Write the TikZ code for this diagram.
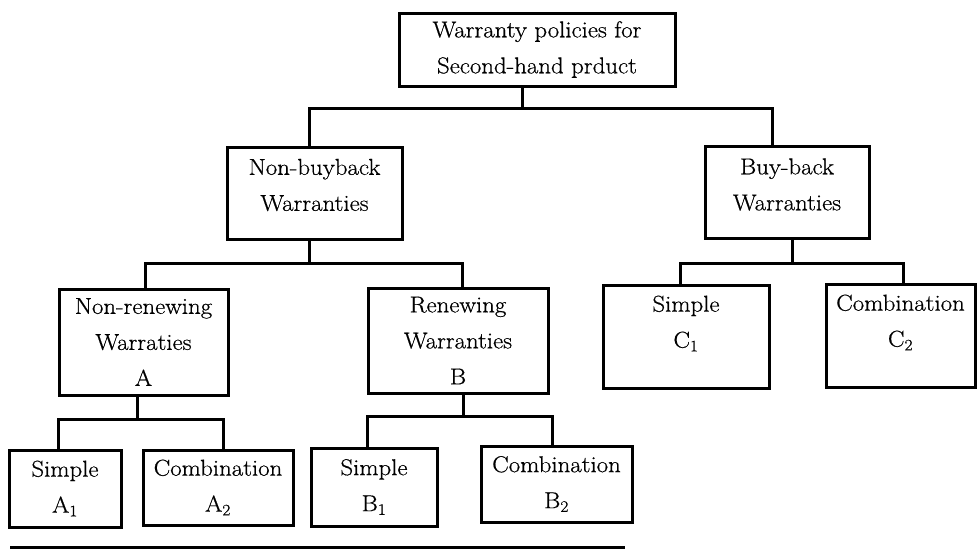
\documentclass[tikz,border=0pt]{standalone}
\usepackage{fontspec}
\newfontfamily\dfont{Latin Modern Roman}[FakeStretch=1.08, FakeBold=0.6]
\begin{document}
\begin{tikzpicture}[x=1pt,y=-1pt,
  box/.style={draw, line width=3pt, rectangle, inner sep=0pt, outer sep=0pt},
  bx/.style n args={2}{box, minimum width=#1pt, minimum height=#2pt},
  lbl/.style={align=center, inner sep=0pt, font=\dfont\fontsize{23}{36}\selectfont},
  conn/.style={line width=3pt, line join=miter}]
\useasboundingbox (0,0) rectangle (977,549);

% boxes
\node[bx={276}{73}, label={[lbl]center:{Warranty policies for\\Second-hand prduct}}] (root) at (537,49.5) {};
\node[bx={175}{92}, label={[lbl,yshift=8pt]center:{Non-buyback\\Warranties}}] (nb) at (314.5,193) {};
\node[bx={164}{92}, label={[lbl,yshift=7.5pt]center:{Buy-back\\Warranties}}] (bb) at (787,192) {};
\node[bx={169}{106}, label={[lbl]center:{Non-renewing\\Warraties\\A}}] (nr) at (143.5,342) {};
\node[bx={180}{105}, label={[lbl]center:{Renewing\\Warranties\\B}}] (rw) at (458,340.5) {};
\node[bx={112}{77}, label={[lbl]center:{Simple\\A\textsubscript{1}}}] (a1) at (65,488.5) {};
\node[bx={150}{75}, label={[lbl]center:{Combination\\A\textsubscript{2}}}] (a2) at (218,487.5) {};
\node[bx={126}{78}, label={[lbl]center:{Simple\\B\textsubscript{1}}}] (b1) at (374,487) {};
\node[bx={151}{76}, label={[lbl]center:{Combination\\B\textsubscript{2}}}] (b2) at (556.5,484) {};
\node[bx={166}{103}, label={[lbl,yshift=13pt]center:{Simple\\C\textsubscript{1}}}] (c1) at (686,336.5) {};
\node[bx={149}{103}, label={[lbl,yshift=13pt]center:{Combination\\C\textsubscript{2}}}] (c2) at (900.5,335.5) {};

% stem points
\coordinate (rootS) at ([xshift=-15pt]root.south);
\coordinate (nbN) at ([xshift=-5.5pt]nb.north);
\coordinate (bbN) at ([xshift=-15pt]bb.north);
\coordinate (nbS) at ([xshift=-5.5pt]nb.south);
\coordinate (bbS) at ([xshift=5pt]bb.south);
\coordinate (nrN) at ([xshift=1.5pt]nr.north);
\coordinate (rwN) at ([xshift=4pt]rw.north);
\coordinate (nrS) at ([xshift=-6.5pt]nr.south);
\coordinate (rwS) at ([xshift=5pt]rw.south);
\coordinate (a1N) at ([xshift=-7pt]a1.north);
\coordinate (a2N) at ([xshift=5pt]a2.north);
\coordinate (b1N) at ([xshift=-7pt]b1.north);
\coordinate (b2N) at ([xshift=-4.5pt]b2.north);
\coordinate (c1N) at ([xshift=-6pt]c1.north);
\coordinate (c2N) at ([xshift=2.5pt]c2.north);

% connectors
\draw[conn] (rootS) -- ++(0,22) -| (nbN);
\draw[conn] (rootS) ++(0,22) -| (bbN);
\draw[conn] (nbS) -- ++(0,24) -| (nrN);
\draw[conn] (nbS) ++(0,24) -| (rwN);
\draw[conn] (bbS) -- ++(0,25) -| (c1N);
\draw[conn] (bbS) ++(0,25) -| (c2N);
\draw[conn] (nrS) -- ++(0,24) -| (a1N);
\draw[conn] (nrS) ++(0,24) -| (a2N);
\draw[conn] (rwS) -- ++(0,23) -| (b1N);
\draw[conn] (rwS) ++(0,23) -| (b2N);

% bottom rule
\draw[line width=3.5pt] (10,547.5) -- (625,547.5);
\end{tikzpicture}
\end{document}
